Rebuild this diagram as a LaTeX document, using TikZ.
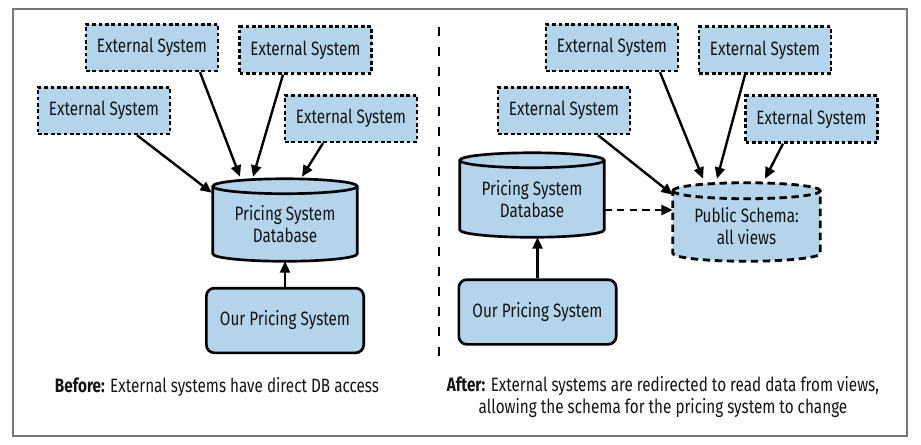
\documentclass[tikz,border=0pt]{standalone}
\usepackage{fontspec}
\setmainfont{Fira Sans}[FakeStretch=0.79]
\usetikzlibrary{arrows.meta,calc}
\definecolor{boxblue}{HTML}{B3D4EB}
\definecolor{framegray}{HTML}{777777}
\pgfdeclarelayer{bg}
\pgfsetlayers{bg,main}
\newcommand\upx{0.75pt}
% cylinder outline around a named node: north = centre line of top ellipse, south = lowest point
\newcommand\drawcyl[3]{% #1 node, #2 ry (pt), #3 options
  \begin{pgfonlayer}{bg}
  \path let \p1=(#1.north west), \p2=(#1.south east), \n1={(\x2-\x1)/2} in
    [#3, fill=boxblue] (\x1,\y1) arc[start angle=180,end angle=0,x radius=\n1,y radius=#2]
    -- (\x2,\y2+#2) arc[start angle=0,end angle=-180,x radius=\n1,y radius=#2] -- cycle;
  \path let \p1=(#1.north west), \p2=(#1.south east), \n1={(\x2-\x1)/2} in
    [#3] (\x1,\y1) arc[start angle=180,end angle=360,x radius=\n1,y radius=#2];
  \end{pgfonlayer}}
\begin{document}
\begin{tikzpicture}[x=0.75pt,y=-0.75pt,
  every node/.style={font=\fontsize{14.5pt}{16.5pt}\selectfont, text=black!92},
  ext/.style={draw, fill=boxblue, line width=2pt, dash pattern=on 2.8pt off 2pt,
    minimum width=99pt, minimum height=35pt, inner sep=0pt},
  own/.style={draw, fill=boxblue, line width=2pt, rounded corners=6pt,
    minimum width=118pt, minimum height=48.5pt, inner sep=0pt},
  cyl/.style={inner sep=0pt, align=center, minimum width=#1*\upx},
  arr/.style={line width=1.8pt, -{Triangle[length=8.5pt,width=7.5pt]}},
  captxt/.style={align=center, inner sep=0pt}]
\useasboundingbox (0,0) rectangle (921,444);
\draw[framegray, line width=1.5pt] (13,9) rectangle (907,436);
\coordinate (divtop) at (439,27);
\coordinate (divbot) at (439,357);
\draw[line width=1.9pt, dash pattern=on 7pt off 8pt] (divtop) -- (divbot);

% ---------- Before ----------
\node[ext] (e1) at (152,47.5) {External System};
\node[ext] (e2) at (305.5,50) {External System};
\node[ext] (e3) at (104,110.5) {External System};
\node[ext] (e4) at (351,118.5) {External System};
\node[cyl=144, minimum height=74.5*\upx] (db1) at (285,223.75) {Pricing System\\Database};
\drawcyl{db1}{5.6pt}{draw, line width=2pt}
\node[own] (o1) at (285,320.5) {Our Pricing System};
\draw[arr] (o1.north) -- (db1.south);
\draw[arr] ($(e1.south)+(48,0)$) -- ($(db1.north)+(-45,-9.5)$);
\draw[arr] ($(e2.south)+(-22.5,0)$) -- ($(db1.north)+(-32,-9.5)$);
\draw[arr] ($(e3.south)+(33,0)$) -- ($(db1.north west)+(-1,6.5)$);
\draw[arr] ($(e4.south)+(-28,0)$) -- ($(db1.north)+(17,-9.5)$);
\node[captxt] (c1) at (217,387) {\textbf{Before:} External systems have direct DB access};

% ---------- After ----------
\node[ext] (f1) at (612,47.5) {External System};
\node[ext] (f2) at (765,50) {External System};
\node[ext] (f3) at (564,110.5) {External System};
\node[ext] (f4) at (811.5,119) {External System};
\node[cyl=144, minimum height=76.5*\upx] (db2) at (532,198.75) {Pricing System\\Database};
\drawcyl{db2}{5.6pt}{draw, line width=2pt}
\node[cyl=147, minimum height=70*\upx] (sc) at (746.5,226) {Public Schema:\\all views};
\drawcyl{sc}{6pt}{draw, line width=2.1pt, dash pattern=on 5.5pt off 3.5pt}
\node[own] (o2) at (537.5,312) {Our Pricing System};
\draw[arr] (o2.north) -- (o2.north |- db2.south);
\draw[arr, dash pattern=on 5.5pt off 4pt] (db2.east |- 0,210) -- (sc.west |- 0,210);
\draw[arr] ($(f1.south)+(48,0)$) -- ($(sc.north)+(-43.5,-12)$);
\draw[arr] ($(f2.south)+(-20,0)$) -- ($(sc.north)+(-29.5,-12)$);
\draw[arr] ($(f3.south)+(34,0)$) -- ($(sc.north west)+(0,4)$);
\draw[arr] ($(f4.south)+(-28.5,0)$) -- ($(sc.north)+(18.5,-12)$);
\node[captxt] (c2) at (663,397.5) {\textbf{After:} External systems are redirected to read data from views,\\allowing the schema for the pricing system to change};
\end{tikzpicture}
\end{document}
